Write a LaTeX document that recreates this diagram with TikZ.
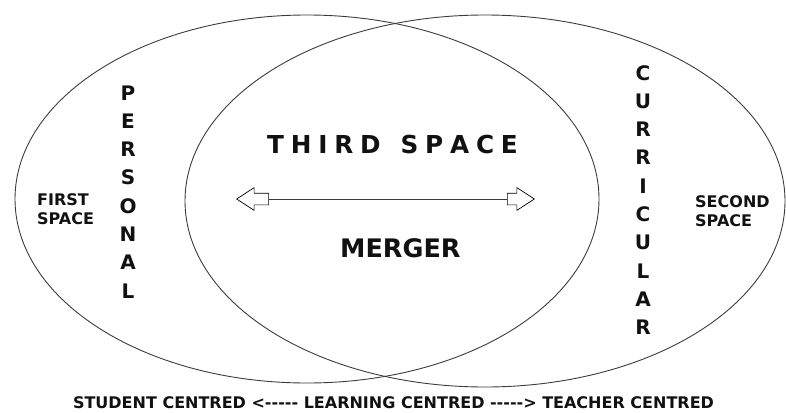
\documentclass[tikz,border=0pt]{standalone}
\usepackage{fontspec}
\setmainfont{DejaVu Sans}
\usepackage{tikz}
\usetikzlibrary{shapes.geometric,shapes.arrows}
\definecolor{LineGrey}{HTML}{3C3C3C}
\definecolor{TextBlack}{HTML}{111111}
\newcommand{\dashrun}{-\kern0pt-\kern0pt-\kern0pt-\kern0pt-}
\tikzset{
  spacering/.style={ellipse, draw=LineGrey, line width=0.9pt, inner sep=0pt},
  vletter/.style={anchor=base, inner sep=0pt, text=TextBlack,
    font=\bfseries\fontsize{20}{24}\selectfont},
  sidelabel/.style={anchor=north west, inner sep=0pt, align=left, text=TextBlack,
    font=\bfseries\fontsize{16}{19.5}\selectfont},
  blockarrow/.style={single arrow, draw=black, fill=white, line width=0.7pt,
    inner sep=0pt, text height=11pt, text depth=0pt, text width=0pt,
    single arrow head extend=5.5pt, single arrow tip angle=66, anchor=tip}
}

\begin{document}
\begin{tikzpicture}[x=1pt,y=-1pt]
  \useasboundingbox (0,0) rectangle (786,412);
  % first and second space
  \node[spacering, minimum width=584pt, minimum height=368pt] (firstspace) at (307,199) {};
  \node[spacering, minimum width=600pt, minimum height=372pt] (secondspace) at (485,201) {};

  \node[sidelabel] (firstlbl) at (37,193) {FIRST\\SPACE};
  \node[sidelabel] (secondlbl) at (695,195) {SECOND\\SPACE};

  \foreach \ch [count=\k from 0] in {P,E,R,S,O,N,A,L}
    \node[vletter] (personal\k) at (128,100+28.3*\k) {\ch};
  \foreach \ch [count=\k from 0] in {C,U,R,R,I,C,U,L,A,R}
    \node[vletter] (curric\k) at (643,80+28.3*\k) {\ch};

  % third space
  \node[anchor=base west, inner sep=0pt, text=TextBlack,
    font=\bfseries\fontsize{24.7}{30}\selectfont] (third) at (267,153)
    {\spaceskip=6.8pt T H I R D\hspace{20pt}S P A C E};
  \node[anchor=base west, inner sep=0pt, text=TextBlack,
    font=\bfseries\fontsize{25.5}{30}\selectfont] (merger) at (340,257) {MERGER};

  \node[blockarrow, minimum height=32pt, shape border rotate=180] (lefthead) at (236,199) {};
  \node[blockarrow, minimum height=27pt] (righthead) at (535,199) {};
  \draw[LineGrey, line width=0.8pt] (lefthead.tail) -- (righthead.tail);

  \node[anchor=base, inner sep=0pt, text=TextBlack,
    font=\bfseries\fontsize{16}{20}\selectfont] (scale) at (393.5,408)
    {STUDENT CENTRED <\dashrun{} LEARNING CENTRED \dashrun> TEACHER CENTRED};
\end{tikzpicture}
\end{document}
